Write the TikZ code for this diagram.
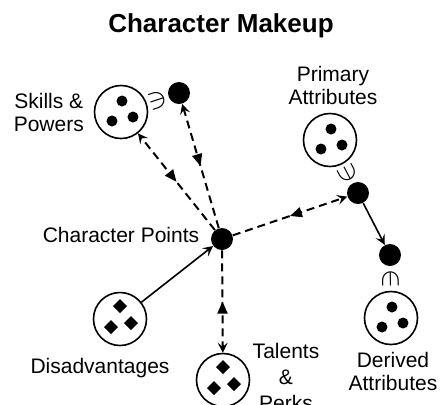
\documentclass[tikz,border=0pt]{standalone}
\usepackage{fontspec}
\setmainfont{Liberation Sans}
\usetikzlibrary{arrows.meta,positioning,calc,decorations.markings}

\begin{document}
\begin{tikzpicture}[x=0.5pt, y=-0.5pt,
    group/.style={draw, circle, line width=0.8pt, minimum size=26.5pt,
                  inner sep=0pt},
    dot/.style={fill, circle, minimum size=11pt, inner sep=0pt},
    lbl/.style={font=\fontsize{10.5}{11.5}\selectfont, align=center,
                inner sep=0pt},
    title/.style={font=\fontsize{13}{15}\selectfont\bfseries},
    link/.style={dash pattern=on 4pt off 2.5pt, line width=1pt,
                 -{Stealth[length=5pt, width=5pt, inset=2pt]},
                 postaction={decorate},
                 decoration={markings, mark=at position 0.5 with
                   {\arrowreversed{Triangle[length=6pt, width=5pt]}}}},
    feed/.style={line width=0.8pt, -{Stealth[length=5pt, width=5pt, inset=2pt]}},
    member/.style={sloped, allow upside down, inner sep=0pt,
                   font=\fontsize{15}{15}\selectfont}
]
\useasboundingbox (0,0) rectangle (441,404);
\node[title, anchor=base] (ttl) at (221,32) {Character Makeup};
% groups and points
\node[group] (S)  at (121,112) {};
\node[dot]   (SD) at (179,93)  {};
\node[dot]   (CP) at (222,239) {};
\node[group] (P)  at (330,140) {};
\node[dot]   (PD) at (358,193) {};
\node[dot]   (DD) at (390,255) {};
\node[group] (D)  at (391,318) {};
\node[group] (A)  at (120,319) {};
\node[group] (T)  at (223,380) {};
% labels
\node[lbl, left=4.75pt of S]              (slbl) {Skills \&\\Powers};
\node[lbl, left=5.5pt of CP, yshift=2pt]  (cplbl) {Character Points};
\node[lbl, above=4pt of P, xshift=1.5pt]  (plbl) {Primary\\Attributes};
\node[lbl, below=3.5pt of D, xshift=1pt]  (dlbl) {Derived\\Attributes};
\node[lbl, below=6pt of A, xshift=-10pt]  (albl) {Disadvantages};
\node[lbl, anchor=north, font=\fontsize{10.5}{13}\selectfont] (tlbl)
     at ([shift={(63,-10)}]T.north) {Talents\\\&\\Perks};
% contents
\foreach \g in {S,P,D}
  \foreach \dx/\dy in {1/-11,-9/9,12/5}
    \fill ($(\g)+(\dx,\dy)$) circle[radius=5.5];
\foreach \g in {A,T}
  \foreach \dx/\dy in {0/-13,-9/8,11/4}
    \fill ($(\g)+(\dx,\dy)$) +(0,-7) -- +(7,0) -- +(0,7) -- +(-7,0) -- cycle;
% connectors
\draw[link] (CP) -- (S);
\draw[link] (CP) -- (SD);
\draw[link] (CP) -- (PD);
\draw[link] (CP) -- (T);
\draw[feed] (A) -- (CP);
\draw[feed] (PD) -- (DD);
\path (SD) -- node[member] (sm) {$\in$} (S);
\path (PD) -- node[member] (pm) {$\in$} (P);
\path (DD) -- node[member] (dm) {$\in$} (D);
\end{tikzpicture}
\end{document}
